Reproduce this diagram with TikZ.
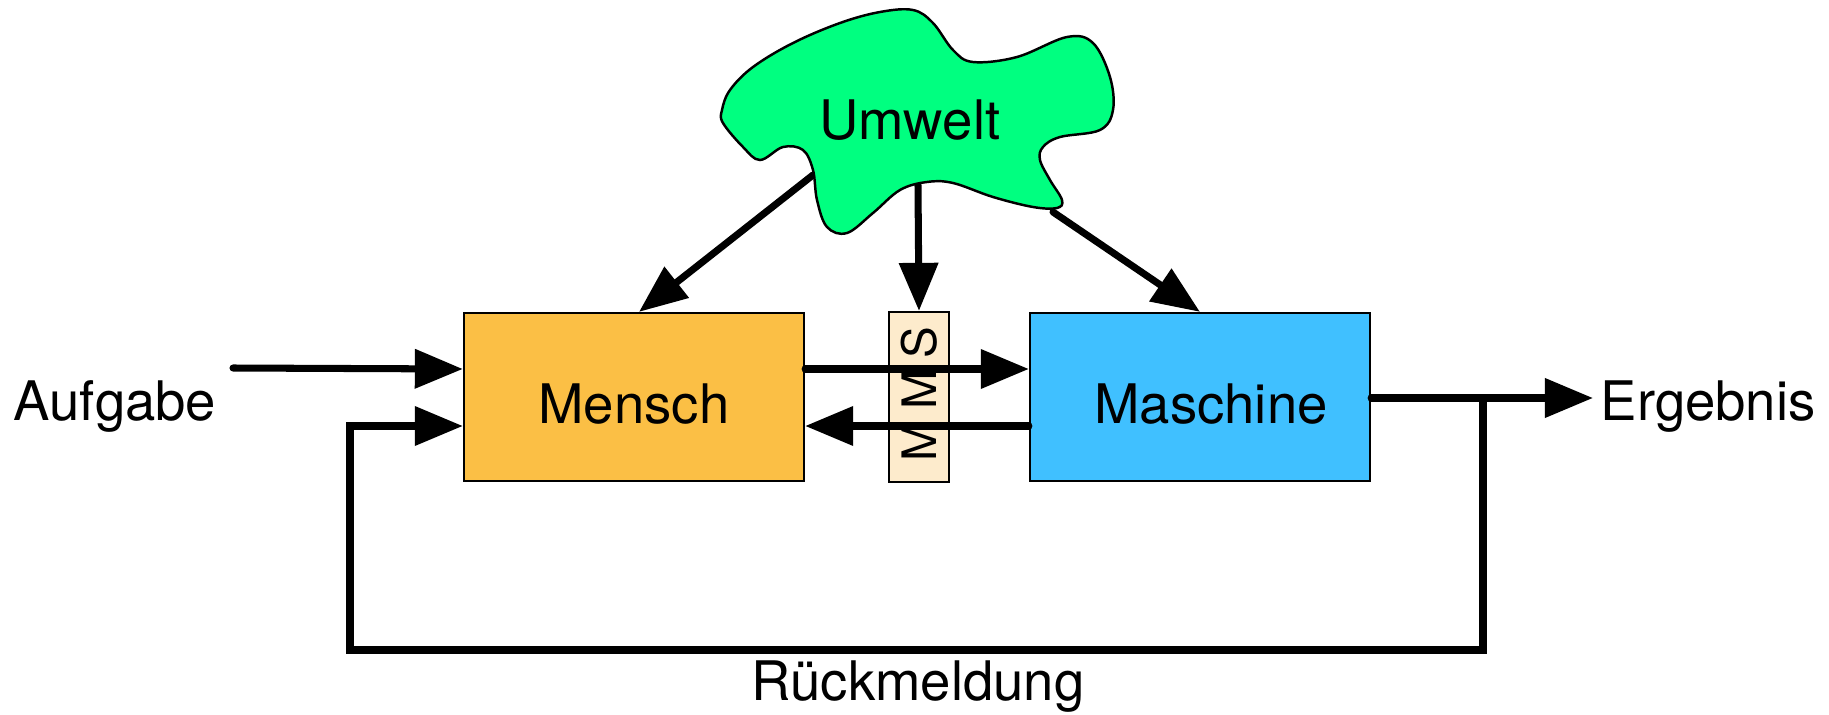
\documentclass[tikz,border=0pt]{standalone}
\usepackage{fontspec}
\setmainfont{TeX Gyre Heros}
\usetikzlibrary{arrows.meta}
\definecolor{menschorange}{RGB}{251,191,69}
\definecolor{maschineblue}{RGB}{64,192,255}
\definecolor{mmsbeige}{RGB}{253,235,204}
\definecolor{umweltgreen}{RGB}{0,255,128}

\begin{document}
\begin{tikzpicture}[x=0.01cm, y=-0.01cm,
    flow/.style={line width=2pt, line cap=round, -{Triangle[length=4.8mm, width=3.8mm]}},
    box/.style={draw, line width=0.6pt, minimum width=3.4cm, minimum height=1.68cm, text height=0.52cm, text depth=0pt},
    every node/.style={font=\fontsize{15.5}{18}\selectfont}]
    \fill[white] (0,0) rectangle (1829,715);
    \useasboundingbox (0,0) rectangle (1829,715);

    \node[box, fill=menschorange] (mensch) at (634,397) {Mensch};
    \node[box, fill=maschineblue] (maschine) at (1200,397) {\hspace{0.22cm}Maschine};
    \node[draw, line width=0.6pt, fill=mmsbeige, minimum width=0.6cm, minimum height=1.7cm, inner sep=0pt] (mms) at (919,397) {};
    \node[rotate=90, font=\fontsize{13.5}{16}\selectfont] (mmstext) at (919,394) {M\kern3.5pt M\kern3.5pt S};

    \coordinate (hin) at (0,369);
    \coordinate (rueck) at (0,426);
    \coordinate (aus) at (0,398);

    \node[anchor=base west, inner sep=0pt] (aufgabe) at (13,420) {Aufgabe};
    \node[anchor=base west, inner sep=0pt] (ergebnis) at (1600,420) {Ergebnis};
    \node[anchor=base, inner sep=0pt] (rueckmeldung) at (918,700) {Rückmeldung};

    \coordinate (start) at (233,368);
    \coordinate (erg) at (1593,398);
    \coordinate (split) at (1483,398);
    \coordinate (fb) at (350,650);

    \draw[flow] (start) -- (mensch.west |- hin);
    \draw[flow] (mensch.east |- hin) -- (maschine.west |- hin);
    \draw[flow] (maschine.west |- rueck) -- (mensch.east |- rueck);
    \draw[flow] (maschine.east |- aus) -- (erg);
    \draw[flow, line cap=butt] (split) |- (fb) |- (mensch.west |- rueck);

    \coordinate (ul) at (813,175);
    \coordinate (um) at (918,185);
    \coordinate (ur) at (1053,212);
    \draw[flow] (ul) -- ([xshift=0.05cm]mensch.north);
    \draw[flow] (um) -- (mms.north);
    \draw[flow] (ur) -- (maschine.north);

    \draw[fill=umweltgreen, line width=0.7pt] plot[smooth cycle, tension=0.6] coordinates {
        (913,10) (933,23) (953,50) (973,62) (1017,57) (1067,37) (1093,43)
        (1110,77) (1113,110) (1100,130) (1060,137) (1043,147) (1040,160)
        (1050,180) (1062,200) (1057,208) (1033,207) (993,197) (953,183)
        (927,182) (900,190) (873,213) (847,233) (827,227) (817,200)
        (813,170) (803,150) (783,147) (760,160) (743,147) (723,123)
        (722,110) (730,90) (753,67) (793,43) (840,23) (880,12)};
    \node (umwelt) at (910,120) {Umwelt};
\end{tikzpicture}
\end{document}
